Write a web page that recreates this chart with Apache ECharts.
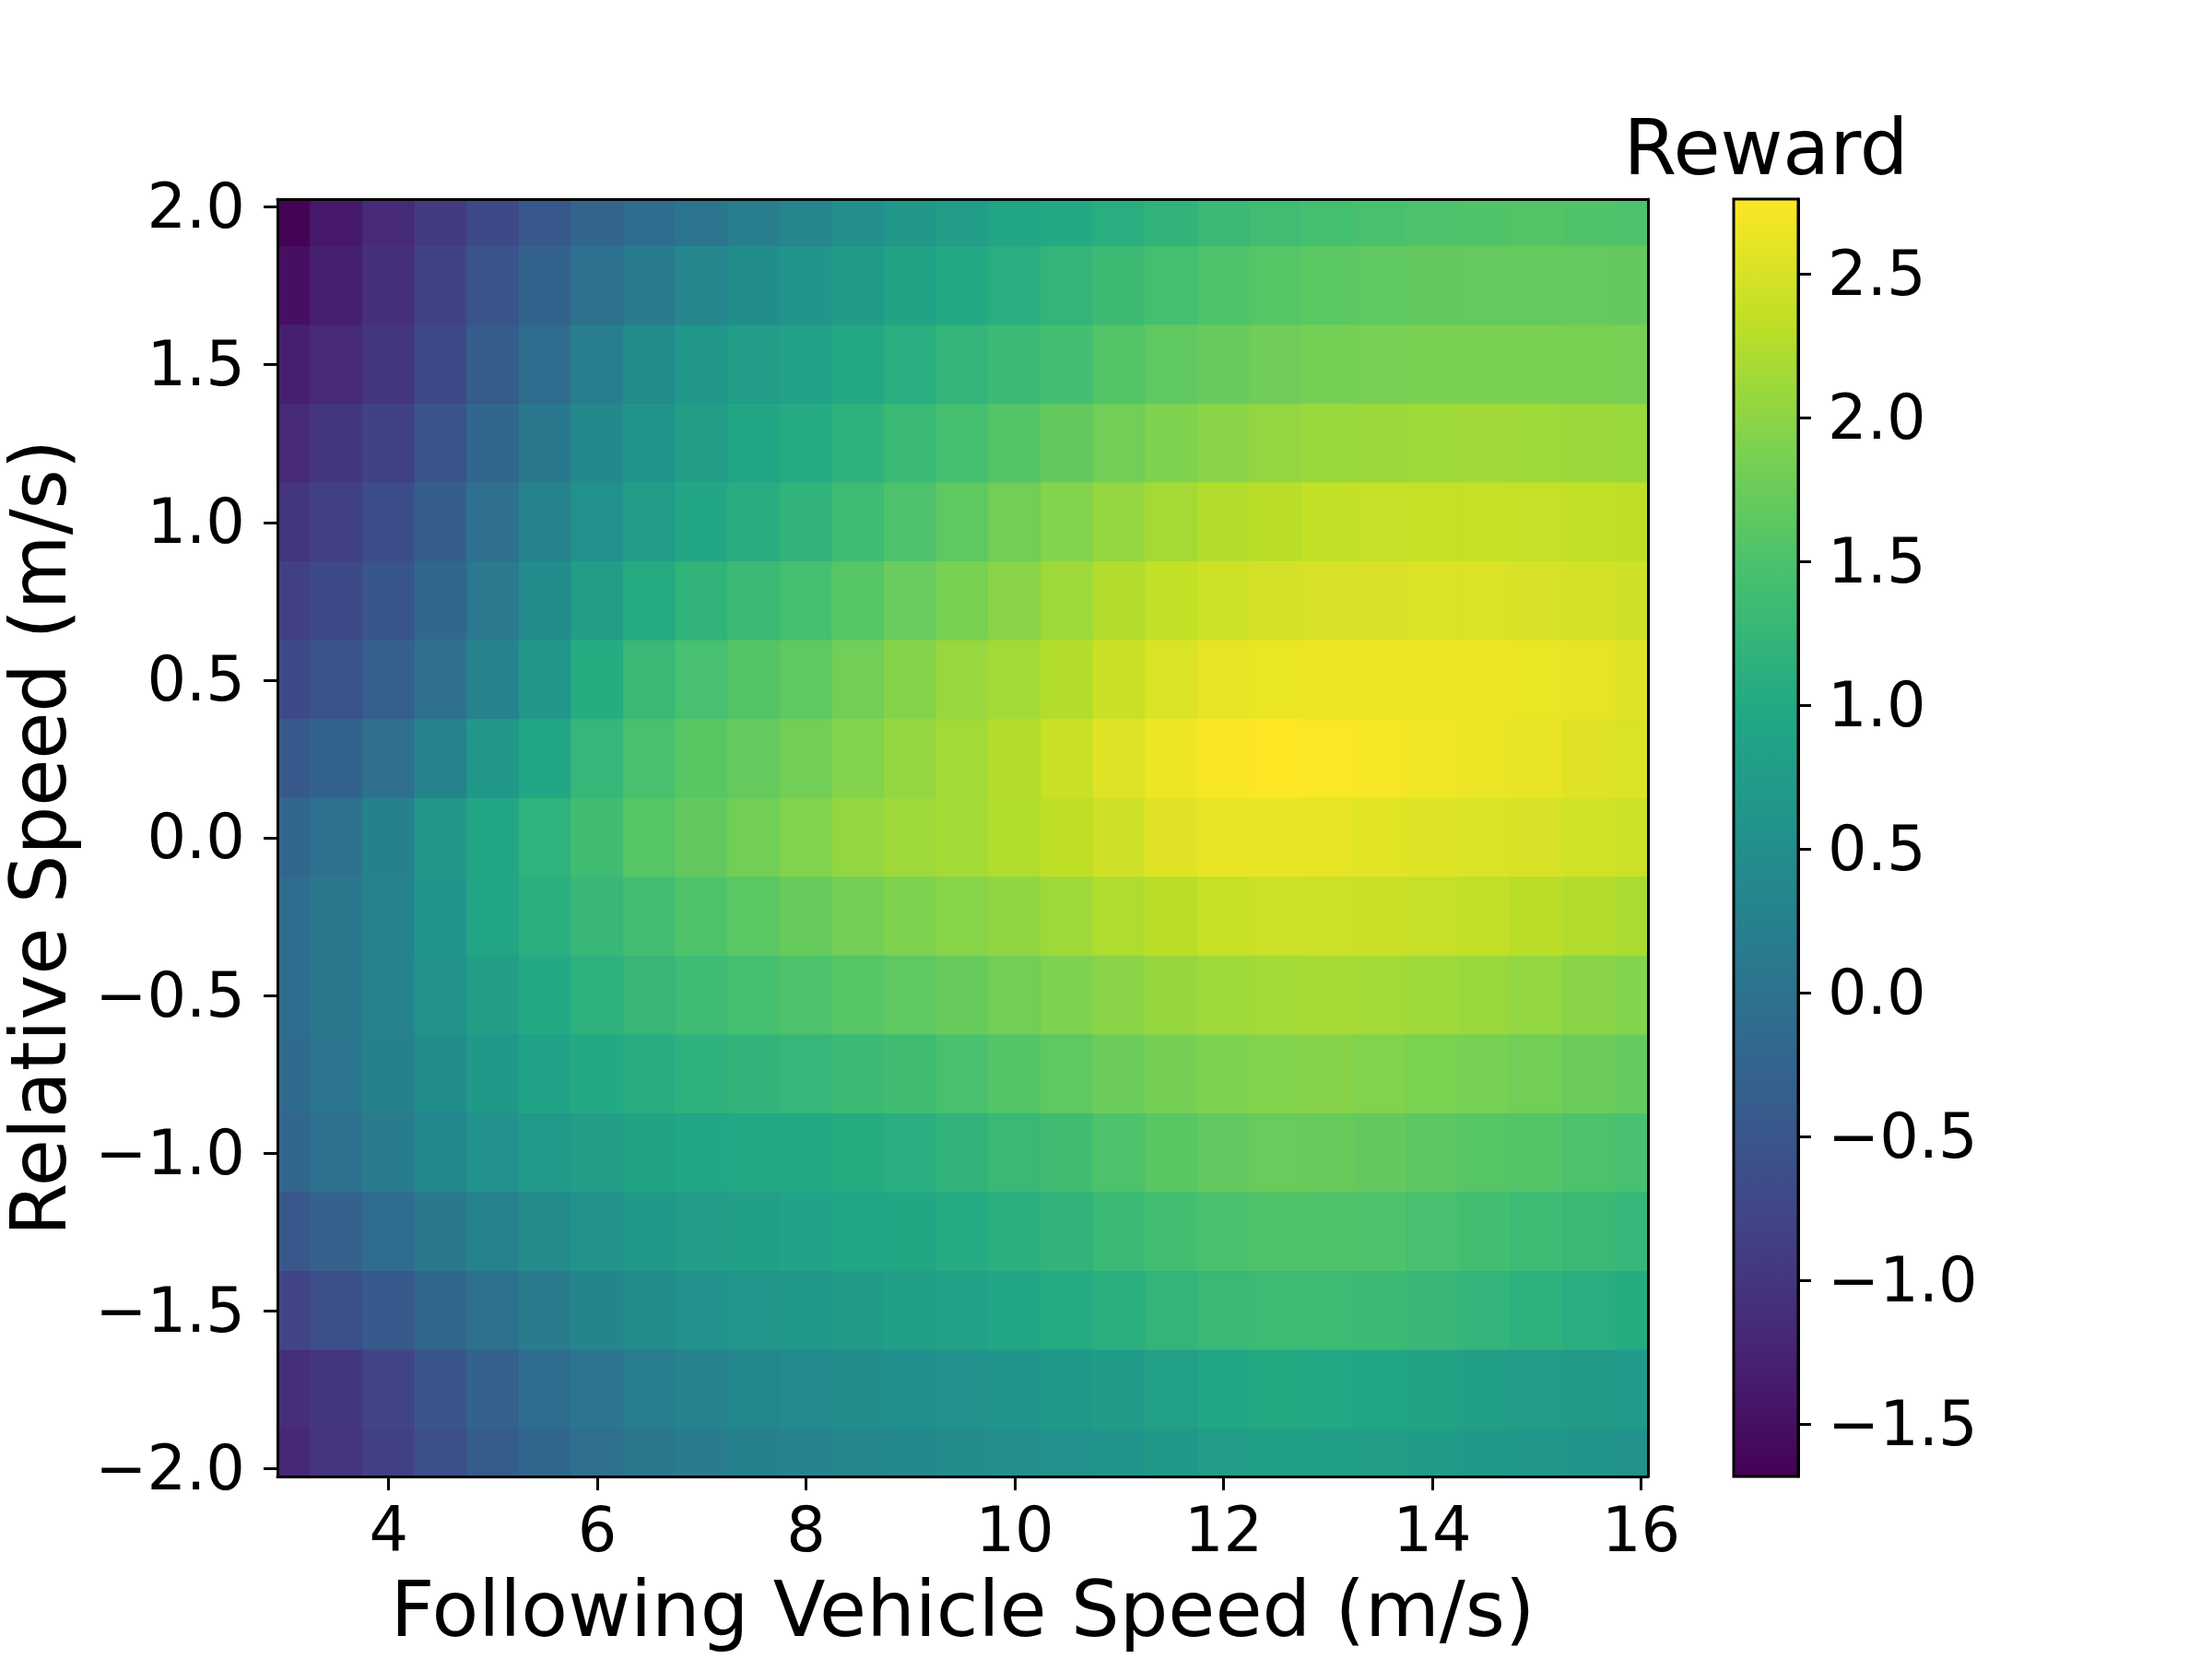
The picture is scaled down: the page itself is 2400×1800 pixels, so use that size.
<!DOCTYPE html>
<html><head><meta charset="utf-8">
<script src="https://cdn.jsdelivr.net/npm/echarts@6/dist/echarts.min.js"></script>
<style>html,body{margin:0;padding:0;background:#fff}#c{width:2400px;height:1800px}</style>
</head><body><div id="c"></div>
<script>
// Following vehicle speed (m/s) sampled columns
const xValues = [3,3.5,4,4.5,5,5.5,6,6.5,7,7.5,8,8.5,9,9.5,10,10.5,11,11.5,12,12.5,13,13.5,14,14.5,15,15.5,16];
// Relative speed (m/s) sampled rows, top to bottom
const yValues = [2.0,1.75,1.5,1.25,1.0,0.75,0.5,0.25,0.0,-0.25,-0.5,-0.75,-1.0,-1.25,-1.5,-1.75,-2.0];

// Reward rows (one per relative speed)
const r_p200 = [-1.65,-1.38,-1.15,-0.92,-0.70,-0.47,-0.25,-0.10,0.05,0.20,0.35,0.50,0.65,0.78,0.90,1.00,1.10,1.20,1.30,1.37,1.42,1.46,1.50,1.53,1.55,1.53,1.50];
const r_p175 = [-1.50,-1.30,-1.08,-0.82,-0.55,-0.28,-0.03,0.17,0.35,0.48,0.60,0.74,0.88,1.00,1.10,1.22,1.33,1.43,1.52,1.58,1.62,1.65,1.68,1.69,1.70,1.70,1.68];
const r_p150 = [-1.30,-1.15,-1.00,-0.72,-0.40,-0.10,0.20,0.45,0.65,0.77,0.85,0.98,1.10,1.22,1.32,1.40,1.55,1.65,1.72,1.78,1.82,1.85,1.87,1.87,1.87,1.86,1.85];
const r_p125 = [-1.15,-1.00,-0.82,-0.55,-0.22,0.10,0.38,0.62,0.80,0.93,1.03,1.16,1.30,1.43,1.55,1.68,1.80,1.90,1.98,2.04,2.08,2.10,2.12,2.13,2.12,2.10,2.08];
const r_p100 = [-1.00,-0.85,-0.65,-0.37,-0.05,0.27,0.55,0.78,0.95,1.08,1.20,1.35,1.50,1.65,1.80,1.93,2.05,2.16,2.25,2.30,2.35,2.37,2.38,2.38,2.37,2.35,2.33];
const r_p075 = [-0.85,-0.70,-0.50,-0.20,0.12,0.47,0.80,1.02,1.20,1.32,1.43,1.58,1.73,1.86,1.98,2.12,2.25,2.35,2.43,2.47,2.50,2.51,2.52,2.52,2.50,2.47,2.44];
const r_p050 = [-0.70,-0.55,-0.35,-0.05,0.30,0.65,1.05,1.30,1.45,1.56,1.65,1.80,1.95,2.07,2.15,2.25,2.40,2.52,2.60,2.63,2.65,2.66,2.66,2.65,2.63,2.60,2.55];
const r_p025 = [-0.45,-0.27,-0.05,0.30,0.65,0.95,1.25,1.46,1.60,1.70,1.80,1.93,2.05,2.15,2.25,2.40,2.55,2.66,2.73,2.76,2.74,2.72,2.68,2.64,2.60,2.56,2.52];
const r_000  = [-0.20,-0.02,0.25,0.65,0.95,1.17,1.38,1.57,1.68,1.80,1.92,2.03,2.12,2.15,2.24,2.33,2.44,2.56,2.62,2.62,2.60,2.57,2.55,2.52,2.50,2.46,2.42];
const r_m025 = [-0.12,0.07,0.27,0.62,0.92,1.12,1.28,1.41,1.52,1.62,1.72,1.81,1.90,1.96,2.02,2.12,2.22,2.30,2.38,2.41,2.42,2.40,2.37,2.34,2.30,2.25,2.20];
const r_m050 = [-0.10,0.10,0.30,0.57,0.80,1.00,1.15,1.26,1.35,1.43,1.50,1.58,1.65,1.72,1.80,1.89,1.98,2.06,2.12,2.15,2.17,2.15,2.12,2.08,2.03,1.98,1.93];
const r_m075 = [-0.13,0.06,0.25,0.48,0.70,0.86,1.00,1.08,1.15,1.20,1.25,1.31,1.38,1.46,1.55,1.65,1.75,1.83,1.90,1.93,1.95,1.92,1.88,1.84,1.80,1.75,1.70];
const r_m100 = [-0.22,-0.02,0.17,0.37,0.55,0.71,0.80,0.88,0.94,0.98,1.00,1.04,1.10,1.20,1.29,1.38,1.50,1.60,1.67,1.73,1.72,1.68,1.63,1.58,1.55,1.50,1.45];
const r_m125 = [-0.48,-0.30,-0.12,0.10,0.28,0.44,0.58,0.69,0.77,0.82,0.86,0.90,0.96,1.03,1.11,1.20,1.30,1.40,1.48,1.53,1.53,1.50,1.45,1.40,1.35,1.30,1.25];
const r_m150 = [-0.78,-0.62,-0.45,-0.22,-0.02,0.16,0.32,0.46,0.56,0.64,0.70,0.76,0.81,0.87,0.95,1.03,1.12,1.22,1.30,1.34,1.35,1.32,1.27,1.21,1.15,1.10,1.05];
const r_m175 = [-1.10,-0.97,-0.80,-0.52,-0.30,-0.10,0.06,0.20,0.30,0.37,0.42,0.47,0.52,0.56,0.62,0.70,0.76,0.85,0.95,1.01,0.98,0.93,0.88,0.81,0.77,0.74,0.71];
const r_m200 = [-1.20,-1.02,-0.85,-0.62,-0.40,-0.20,-0.05,0.07,0.17,0.24,0.30,0.35,0.40,0.45,0.50,0.56,0.62,0.70,0.78,0.82,0.82,0.79,0.75,0.70,0.65,0.62,0.58];

const xTicks = [4,6,8,10,12,14,16];
const yTicks = [-2,-1.5,-1,-0.5,0,0.5,1,1.5,2];
const cbTicks = [-1.5,-1,-0.5,0,0.5,1,1.5,2,2.5];
const xRange = [2.934, 16.066];
const yRange = [-2.025, 2.025];
const rewardRange = [-1.682, 2.762];

const viridis = ['#440154','#482475','#414487','#355f8d','#2a788e','#21918c','#22a884','#44bf70','#7ad151','#bddf26','#fde725'];

const rewardRows = [r_p200,r_p175,r_p150,r_p125,r_p100,r_p075,r_p050,r_p025,r_000,r_m025,r_m050,r_m075,r_m100,r_m125,r_m150,r_m175,r_m200];
const data = [];
rewardRows.forEach((row, i) => row.forEach((v, j) => data.push([xValues[j], yValues[i], v])));
const dx = xValues[1] - xValues[0];
const dy = yValues[0] - yValues[1];

const FONT = 'DejaVu Sans';
const fmt1 = v => (v < 0 ? '\u2212' : '') + Math.abs(v).toFixed(1);
const fmtRich = v => '{t|' + fmt1(v) + '}';
const richT = {t: {fontSize: 67, color: '#000', fontFamily: FONT, padding: [10, 0, 0, 0]}};
const lineSt = {color: '#000', width: 3};

const chart = echarts.init(document.getElementById('c'), null, {renderer: 'canvas'});
chart.setOption({
  animation: false,
  backgroundColor: '#fff',
  title: {
    text: 'Reward', left: 1916, top: 126, textAlign: 'center', padding: 0,
    textStyle: {fontSize: 83, fontWeight: 'normal', color: '#000', fontFamily: FONT}
  },
  grid: [
    {left: 300, top: 216, width: 1488, height: 1386},
    {left: 1881, top: 216, width: 70, height: 1386}
  ],
  xAxis: [
    {type: 'value', gridIndex: 0, min: xRange[0], max: xRange[1], position: 'bottom', z: 10,
     axisLine: {show: true, onZero: false, lineStyle: lineSt},
     axisTick: {show: true, inside: false, length: 15, lineStyle: lineSt, customValues: xTicks},
     axisLabel: {customValues: xTicks, fontSize: 67, color: '#000', margin: 30, fontFamily: FONT},
     splitLine: {show: false},
     name: 'Following Vehicle Speed (m/s)', nameLocation: 'middle', nameGap: 110,
     nameTextStyle: {fontSize: 83, color: '#000', fontFamily: FONT}},
    {type: 'value', gridIndex: 0, min: xRange[0], max: xRange[1], position: 'top', z: 10,
     axisLine: {show: true, onZero: false, lineStyle: lineSt},
     axisTick: {show: false}, axisLabel: {show: false}, splitLine: {show: false}},
    {type: 'value', gridIndex: 1, min: 0, max: 1, show: false}
  ],
  yAxis: [
    {type: 'value', gridIndex: 0, min: yRange[0], max: yRange[1], position: 'left', z: 10,
     axisLine: {show: true, onZero: false, lineStyle: lineSt},
     axisTick: {show: true, inside: false, length: 15, lineStyle: lineSt, customValues: yTicks},
     axisLabel: {customValues: yTicks, fontSize: 67, color: '#000', margin: 35, fontFamily: FONT,
                 formatter: fmtRich, rich: richT},
     splitLine: {show: false},
     name: 'Relative Speed (m/s)', nameLocation: 'middle', nameGap: 210,
     nameTextStyle: {fontSize: 83, color: '#000', fontFamily: FONT}},
    {type: 'value', gridIndex: 0, min: yRange[0], max: yRange[1], position: 'right', z: 10,
     axisLine: {show: true, onZero: false, lineStyle: lineSt},
     axisTick: {show: false}, axisLabel: {show: false}, splitLine: {show: false}},
    {type: 'value', gridIndex: 1, min: rewardRange[0], max: rewardRange[1], position: 'right', z: 10,
     axisLine: {show: true, onZero: false, lineStyle: lineSt},
     axisTick: {show: true, inside: false, length: 14, lineStyle: lineSt, customValues: cbTicks},
     axisLabel: {customValues: cbTicks, fontSize: 67, color: '#000', margin: 32, fontFamily: FONT,
                 formatter: fmtRich, rich: richT},
     splitLine: {show: false}}
  ],
  visualMap: {
    type: 'continuous', show: false, seriesIndex: 0, dimension: 2,
    min: rewardRange[0], max: rewardRange[1], inRange: {color: viridis}
  },
  series: [
    {
      type: 'custom', xAxisIndex: 0, yAxisIndex: 0, data: data,
      encode: {x: 0, y: 1},
      renderItem: function (params, api) {
        const x = api.value(0), y = api.value(1);
        const p1 = api.coord([x - dx / 2, y + dy / 2]);
        const p2 = api.coord([x + dx / 2, y - dy / 2]);
        const cs = params.coordSys;
        const rect = echarts.graphic.clipRectByRect(
          {x: p1[0], y: p1[1], width: p2[0] - p1[0], height: p2[1] - p1[1]},
          {x: cs.x, y: cs.y, width: cs.width, height: cs.height});
        if (!rect) return;
        const c = api.visual('color');
        return {type: 'rect', shape: rect, style: {fill: c, stroke: c, lineWidth: 1}};
      }
    },
    {
      type: 'custom', xAxisIndex: 2, yAxisIndex: 2, data: [[0.5, 0]],
      encode: {x: 0, y: 1}, z: 1,
      renderItem: function (params, api) {
        const cs = params.coordSys;
        const stops = viridis.map((c, i) => ({offset: i / (viridis.length - 1), color: c}));
        return {type: 'rect', shape: {x: cs.x, y: cs.y, width: cs.width, height: cs.height},
          style: {fill: new echarts.graphic.LinearGradient(0, 1, 0, 0, stops), stroke: '#000', lineWidth: 3}};
      }
    }
  ]
});
</script></body></html>
